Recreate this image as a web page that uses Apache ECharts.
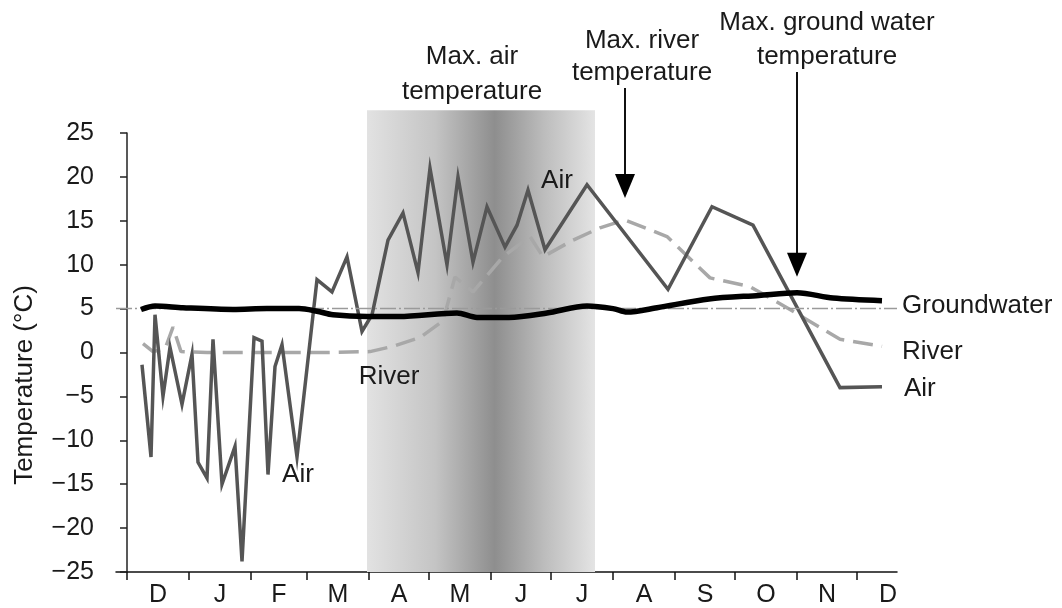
<!DOCTYPE html>
<html>
<head>
<meta charset="utf-8">
<script src="https://cdn.jsdelivr.net/npm/echarts@6/dist/echarts.min.js"></script>
<style>
  html, body { margin: 0; padding: 0; background: #fff; }
  #chart { width: 1062px; height: 608px; }
</style>
</head>
<body>
<div id="chart"></div>
<script>
// Season runs from 1 December (day 0) to the following December.
const monthLetters = ['D', 'J', 'F', 'M', 'A', 'M', 'J', 'J', 'A', 'S', 'O', 'N', 'D'];
const monthLengths = [31, 31, 28, 31, 30, 31, 30, 31, 31, 30, 31, 30, 31];
const tempTicks = [-25, -20, -15, -10, -5, 0, 5, 10, 15, 20, 25];

// [day, °C]
const airTemp = [
  [7.5, -1.4], [12, -11.9], [14, 4.3], [18, -5.0], [21.5, 0.6], [27.5, -5.9],
  [32.5, -0.2], [35.5, -12.5], [40, -14.3], [43, 1.5], [47.5, -15.0], [54, -10.7],
  [57.5, -23.8], [63.5, 1.7], [67.5, 1.3], [70.5, -13.9], [74, -1.6], [77.5, 0.9],
  [85, -11.9], [95, 8.3], [102.5, 6.9], [110, 10.9], [117.5, 2.4], [122.5, 4.3],
  [130.5, 12.8], [138, 15.9], [145.5, 9.1], [151.5, 21.0], [160, 10.0], [165.5, 20.0],
  [173, 10.3], [180, 16.6], [189, 12.0], [195, 14.5], [200.5, 18.5], [209, 11.7],
  [230, 19.1], [270.5, 7.2], [292.5, 16.6], [313, 14.5], [356.5, -4.0], [377.5, -3.9]
];
const riverTemp = [
  [8, 1.0], [13, 0.1], [19, 0.4], [23, 2.9], [27, 0.1], [40, 0.0], [70, 0.0],
  [100, 0.0], [121.5, 0.1], [133, 0.7], [146.5, 1.7], [158, 3.6], [164, 8.6],
  [173, 6.9], [188, 10.9], [201.5, 13.2], [208, 10.9], [223, 12.8], [236.5, 14.2],
  [249, 15.1], [270, 13.2], [291.5, 8.5], [311.5, 7.5], [331.5, 4.9], [356.5, 1.5],
  [377.5, 0.7]
];
const groundwaterTemp = [
  [7, 4.9], [14, 5.3], [28, 5.1], [53, 4.9], [70, 5.0], [86, 5.0], [95, 4.7],
  [103, 4.3], [120, 4.1], [136, 4.1], [165, 4.5], [175, 4.0], [191, 4.0],
  [210, 4.5], [230, 5.3], [243, 5.0], [250, 4.6], [265, 5.1], [291, 6.1],
  [316, 6.5], [335, 6.8], [353, 6.2], [377.5, 5.9]
];
const warmPeriod = [[120, 234]];       // shaded band (start day, end day)
const referenceTemp = 5;               // dash-dot reference level
const peakMarks = [[249, 15.1, 22], [335, 6.8, 16]]; // river max, groundwater max

const FONT = '"Liberation Sans", Arial, Helvetica, sans-serif';
const INK = '#1a1a1a';

// month boundaries and mid-month label positions
const monthStarts = [0];
monthLengths.forEach(function (d, i) { monthStarts.push(monthStarts[i] + d); });
const monthMids = monthLengths.map(function (d, i) { return monthStarts[i] + d / 2; });

const chart = echarts.init(document.getElementById('chart'), null, { renderer: 'canvas' });

function label(x, y, text, align, size, lineHeight) {
  return {
    type: 'text', x: x, y: y, z: 100,
    style: {
      text: text, fill: INK, font: size + 'px ' + FONT,
      align: align, verticalAlign: 'middle', lineHeight: lineHeight || size
    }
  };
}

const option = {
  animation: false,
  backgroundColor: '#fff',
  grid: { left: 116, right: 165, top: 133, bottom: 35, containLabel: false },
  xAxis: {
    type: 'value',
    min: -5.5,
    max: 385,
    splitLine: { show: false },
    axisLine: { show: true, onZero: false, lineStyle: { color: '#111', width: 1.5 } },
    axisTick: {
      show: true, inside: false, length: 8,
      customValues: monthStarts.slice(0, 13),
      lineStyle: { color: '#111', width: 1.5 }
    },
    axisLabel: {
      show: true, margin: 11,
      customValues: monthMids,
      formatter: function (v) {
        const i = monthMids.indexOf(v);
        return i >= 0 ? monthLetters[i] : '';
      },
      color: INK, fontFamily: FONT, fontSize: 25
    }
  },
  yAxis: {
    type: 'value',
    min: tempTicks[0],
    max: tempTicks[tempTicks.length - 1],
    interval: 5,
    splitLine: { show: false },
    axisLine: { show: true, lineStyle: { color: '#222', width: 1.5 } },
    axisTick: { show: true, inside: false, length: 7, lineStyle: { color: '#222', width: 1.5 } },
    axisLabel: {
      margin: 22,
      formatter: function (v) { return String(v).replace('-', '\u2212'); },
      color: INK, fontFamily: FONT, fontSize: 25
    }
  },
  graphic: [
    {
      type: 'text', x: 25, y: 385, rotation: Math.PI / 2, z: 100,
      style: { text: 'Temperature (\u00B0C)', fill: INK, font: '26px ' + FONT, align: 'center', verticalAlign: 'middle' }
    },
    label(472, 74, 'Max. air\ntemperature', 'center', 26, 35),
    label(642, 57, 'Max. river\ntemperature', 'center', 26, 32),
    label(827, 40, 'Max. ground water\ntemperature', 'center', 26, 34),
    label(902, 306, 'Groundwater', 'left', 26),
    label(902, 352, 'River', 'left', 26),
    label(904, 389, 'Air', 'left', 26),
    label(298, 475, 'Air', 'center', 26),
    label(389, 377, 'River', 'center', 26),
    label(557, 181, 'Air', 'center', 26)
  ],
  series: [
    {
      // shaded warm period
      type: 'custom',
      name: 'warm period',
      clip: false,
      z: 1,
      silent: true,
      data: warmPeriod,
      encode: { x: [0, 1] },
      renderItem: function (params, api) {
        const x0 = api.coord([api.value(0), 0])[0];
        const x1 = api.coord([api.value(1), 0])[0];
        const yb = api.coord([0, -25])[1];
        const yt = api.coord([0, 27.6])[1];
        return {
          type: 'rect',
          shape: { x: x0, y: yt, width: x1 - x0, height: yb - yt },
          style: {
            fill: new echarts.graphic.LinearGradient(0, 0, 1, 0, [
              { offset: 0, color: '#e2e2e2' },
              { offset: 0.3, color: '#c4c4c4' },
              { offset: 0.56, color: '#8e8e8e' },
              { offset: 0.78, color: '#bdbdbd' },
              { offset: 1, color: '#e4e4e4' }
            ])
          }
        };
      }
    },
    {
      type: 'line',
      name: 'River',
      data: riverTemp,
      z: 3,
      symbol: 'none',
      lineStyle: { color: '#a8a8a8', width: 3.5, type: [20, 9] },
      markLine: {
        silent: true,
        symbol: 'none',
        label: { show: false },
        lineStyle: { color: '#9a9a9a', width: 1.3, type: [16, 3, 2, 3] },
        data: [{ yAxis: referenceTemp }]
      }
    },
    {
      type: 'line',
      name: 'Air',
      data: airTemp,
      z: 4,
      symbol: 'none',
      lineStyle: { color: '#555', width: 3.5, join: 'miter' }
    },
    {
      type: 'line',
      name: 'Groundwater',
      data: groundwaterTemp,
      z: 5,
      symbol: 'none',
      smooth: 0.3,
      lineStyle: { color: '#000', width: 5.5 }
    },
    {
      // arrows pointing at the seasonal maxima
      type: 'custom',
      name: 'maxima',
      clip: false,
      z: 6,
      silent: true,
      data: peakMarks,
      encode: { x: 0, y: 1 },
      renderItem: function (params, api) {
        const p = api.coord([api.value(0), api.value(1)]);
        const tipY = p[1] - api.value(2);
        const tailY = params.dataIndex === 0 ? 88 : 72;
        const headH = 24, headW = 20;
        return {
          type: 'group',
          children: [
            { type: 'line', shape: { x1: p[0], y1: tailY, x2: p[0], y2: tipY - headH + 2 }, style: { stroke: '#111', lineWidth: 2 } },
            { type: 'polygon', shape: { points: [[p[0] - headW / 2, tipY - headH], [p[0] + headW / 2, tipY - headH], [p[0], tipY]] }, style: { fill: '#000' } }
          ]
        };
      }
    }
  ]
};

chart.setOption(option);
</script>
</body>
</html>
